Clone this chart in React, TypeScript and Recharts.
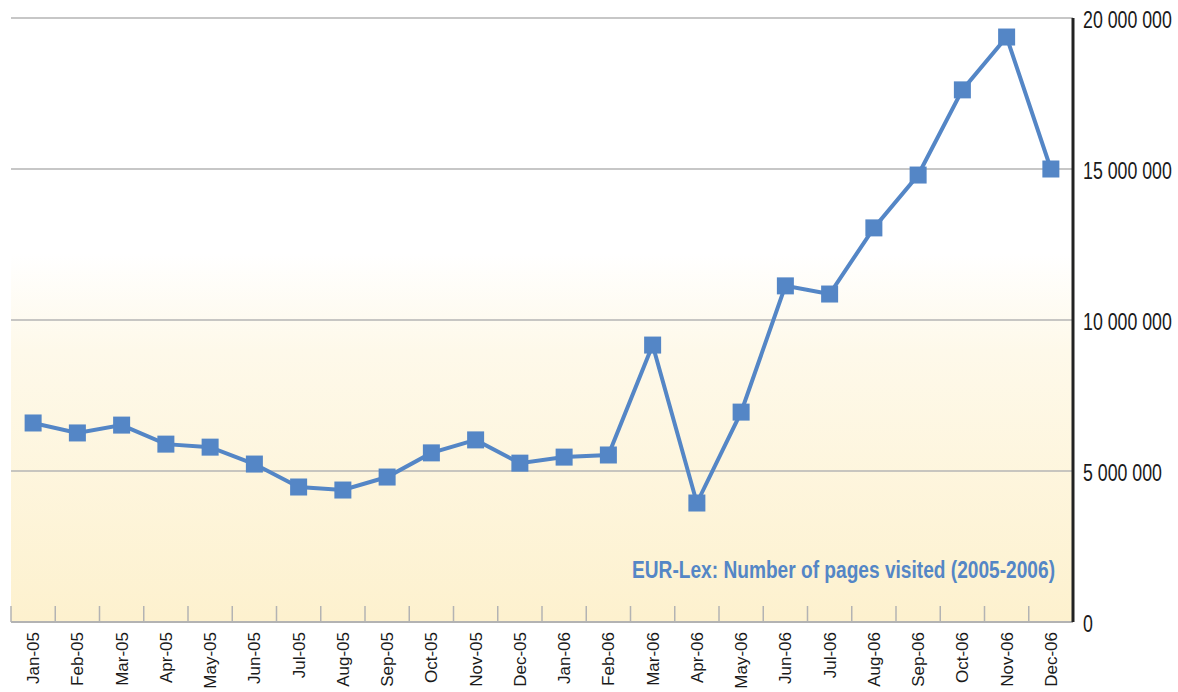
import React from "react";
import {
  LineChart,
  Line,
  XAxis,
  YAxis,
  CartesianGrid,
} from "recharts";

const months = [
  "Jan-05", "Feb-05", "Mar-05", "Apr-05", "May-05", "Jun-05",
  "Jul-05", "Aug-05", "Sep-05", "Oct-05", "Nov-05", "Dec-05",
  "Jan-06", "Feb-06", "Mar-06", "Apr-06", "May-06", "Jun-06",
  "Jul-06", "Aug-06", "Sep-06", "Oct-06", "Nov-06", "Dec-06",
];

const pagesVisited = [
  6590000, 6260000, 6520000, 5890000, 5790000, 5230000,
  4470000, 4370000, 4800000, 5600000, 6030000, 5260000,
  5460000, 5530000, 9170000, 3940000, 6950000, 11130000,
  10860000, 13050000, 14800000, 17620000, 19370000, 15000000,
];

const yTicks = [0, 5000000, 10000000, 15000000, 20000000];

const title = "EUR-Lex: Number of pages visited (2005-2006)";

const data = months.map((m, i) => ({ month: m, pages: pagesVisited[i] }));

const FONT = '"Liberation Sans", Arial, sans-serif';
const BLUE = "#5486C6";

const CHART_W = 1178;
const CHART_H = 692;
const MARGIN = { top: 18, right: 5, bottom: 0, left: 11 };
const Y_AXIS_W = 100;
const plotW = CHART_W - MARGIN.left - MARGIN.right - Y_AXIS_W;
const band = plotW / months.length;

function formatNumber(v: number) {
  return String(v).replace(/\B(?=(\d{3})+(?!\d))/g, " ");
}

// tick y arrives 8px below the axis line (tickSize 6 + tickMargin 2)
function MonthTick(props: any) {
  const { x, y, payload } = props;
  return (
    <g>
      <line
        x1={x - band / 2}
        x2={x - band / 2}
        y1={y - 8}
        y2={y - 24}
        stroke="#B3B3B3"
        strokeWidth={1.5}
      />
      <text
        transform={`translate(${x + 6},${y + 2}) rotate(-90)`}
        textAnchor="end"
        fontSize={17}
        fontFamily={FONT}
        fill="#1a1a1a"
      >
        {payload.value}
      </text>
    </g>
  );
}

function ValueTick(props: any) {
  const { x, y, payload } = props;
  return (
    <text
      transform={`translate(${x + 2},${y + 10}) scale(0.74,1)`}
      fontSize={24}
      fontFamily={FONT}
      fill="#1a1a1a"
    >
      {formatNumber(payload.value)}
    </text>
  );
}

function SquareDot(props: any) {
  const { cx, cy } = props;
  if (cx == null || cy == null) return null;
  return <rect x={cx - 8.5} y={cy - 8.5} width={17} height={17} fill={BLUE} />;
}

export default function App() {
  return (
    <div style={{ position: "absolute", left: 0, top: 0 }}>
      <LineChart width={CHART_W} height={CHART_H} data={data} margin={MARGIN}>
        <defs>
          <linearGradient id="bg" x1="0" y1="0" x2="0" y2="1">
            <stop offset="0" stopColor="#FFFFFF" />
            <stop offset="0.39" stopColor="#FFFFFF" />
            <stop offset="0.55" stopColor="#FEF9EA" />
            <stop offset="1" stopColor="#FDF1CE" />
          </linearGradient>
        </defs>
        <CartesianGrid
          vertical={false}
          stroke="#B5B5B5"
          strokeWidth={1.5}
          fill="url(#bg)"
          fillOpacity={1}
        />
        <XAxis
          dataKey="month"
          scale="band"
          axisLine={{ stroke: "#B3B3B3", strokeWidth: 2 }}
          tickLine={false}
          tick={<MonthTick />}
          interval={0}
          height={70}
        />
        <YAxis
          orientation="right"
          width={Y_AXIS_W}
          domain={[0, 20000000]}
          ticks={yTicks}
          axisLine={{ stroke: "#222", strokeWidth: 3 }}
          tickLine={false}
          tick={<ValueTick />}
        />
        <Line
          type="linear"
          dataKey="pages"
          stroke={BLUE}
          strokeWidth={4}
          dot={<SquareDot />}
          activeDot={false}
          isAnimationActive={false}
        />
        <text
          x={632}
          y={578}
          fontSize={23}
          fontWeight="bold"
          fontFamily={FONT}
          fill={BLUE}
          textLength={423}
          lengthAdjust="spacingAndGlyphs"
        >
          {title}
        </text>
      </LineChart>
    </div>
  );
}
